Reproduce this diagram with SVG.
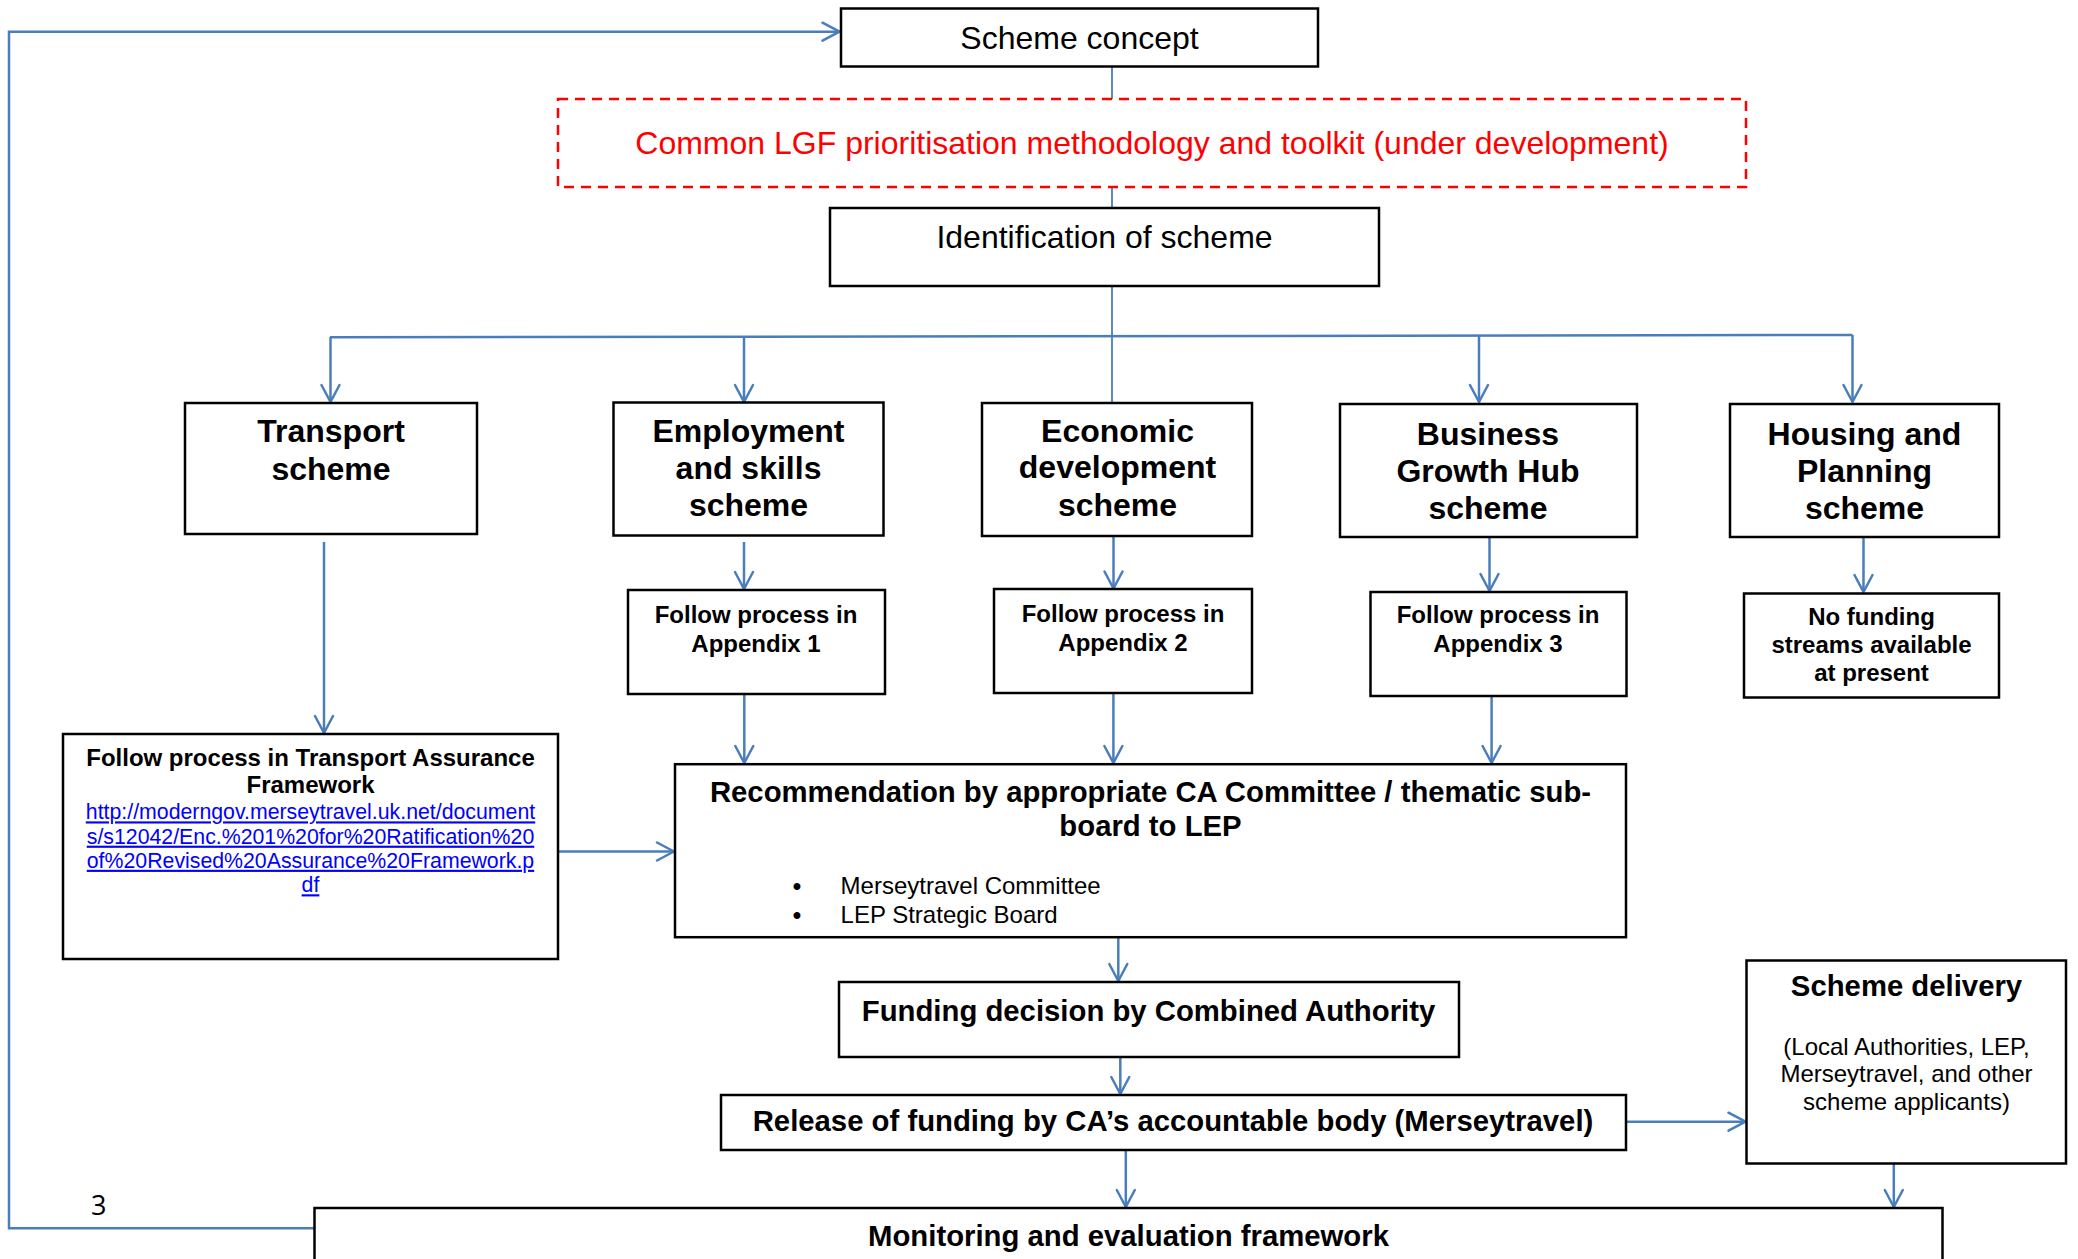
<svg xmlns="http://www.w3.org/2000/svg" width="2078" height="1259" viewBox="0 0 2078 1259">
<style>
  .box { fill: #ffffff; stroke: #000000; stroke-width: 2.5; }
  .dash { fill: none; stroke: #ff0000; stroke-width: 2.5; stroke-dasharray: 10 7; }
  .con { fill: none; stroke: #4a7ebb; stroke-width: 2.5; }
  .thin { fill: none; stroke: #4a7ebb; stroke-width: 1.8; }
  text { font-family: "Liberation Sans", Arial, sans-serif; fill: #000000; }
  .t32 { font-size: 32px; text-anchor: middle; }
  .b32 { font-size: 32px; font-weight: bold; text-anchor: middle; }
  .b24 { font-size: 24px; font-weight: bold; text-anchor: middle; }
  .b29 { font-size: 29.3px; font-weight: bold; text-anchor: middle; }
  .r24 { font-size: 24px; }
  .link { font-size: 21.3px; fill: #0000ff; text-decoration: underline; text-anchor: middle; }
</style>
<defs>
  <marker id="arr" markerUnits="userSpaceOnUse" markerWidth="22" markerHeight="22" viewBox="0 0 22 22" refX="19" refY="11" orient="auto">
    <path d="M2,2 L19,11 L2,20" fill="none" stroke="#4a7ebb" stroke-width="2.5" stroke-linejoin="round" stroke-linecap="round"/>
  </marker>
</defs>

<g id="connectors">
  <line class="thin" x1="1112" y1="67" x2="1112" y2="99"/>
  <line class="thin" x1="1112" y1="187" x2="1112" y2="208"/>
  <line class="thin" x1="1112" y1="286" x2="1112" y2="403"/>
  <line class="con" x1="330" y1="337.3" x2="1852.5" y2="335"/>
  <line class="con" x1="330.5" y1="337" x2="330.5" y2="402" marker-end="url(#arr)"/>
  <line class="con" x1="744" y1="337" x2="744" y2="402" marker-end="url(#arr)"/>
  <line class="con" x1="1479" y1="335.5" x2="1479" y2="402" marker-end="url(#arr)"/>
  <line class="con" x1="1852.5" y1="335" x2="1852.5" y2="402" marker-end="url(#arr)"/>
  <line class="con" x1="324" y1="542" x2="324" y2="733" marker-end="url(#arr)"/>
  <line class="con" x1="744" y1="542" x2="744" y2="589" marker-end="url(#arr)"/>
  <line class="con" x1="1113.5" y1="536" x2="1113.5" y2="588.5" marker-end="url(#arr)"/>
  <line class="con" x1="1489.5" y1="537" x2="1489.5" y2="591" marker-end="url(#arr)"/>
  <line class="con" x1="1863.5" y1="537" x2="1863.5" y2="592" marker-end="url(#arr)"/>
  <line class="con" x1="744.3" y1="694" x2="744.3" y2="763" marker-end="url(#arr)"/>
  <line class="con" x1="1113.4" y1="693" x2="1113.4" y2="763" marker-end="url(#arr)"/>
  <line class="con" x1="1491.6" y1="696" x2="1491.6" y2="763" marker-end="url(#arr)"/>
  <line class="con" x1="558" y1="851.5" x2="674" y2="851.5" marker-end="url(#arr)"/>
  <line class="con" x1="1118.3" y1="937" x2="1118.3" y2="981" marker-end="url(#arr)"/>
  <line class="con" x1="1120.3" y1="1057" x2="1120.3" y2="1094" marker-end="url(#arr)"/>
  <line class="con" x1="1626" y1="1121.7" x2="1745.5" y2="1121.7" marker-end="url(#arr)"/>
  <line class="con" x1="1125.8" y1="1150" x2="1125.8" y2="1207" marker-end="url(#arr)"/>
  <line class="con" x1="1893.8" y1="1163.5" x2="1893.8" y2="1207" marker-end="url(#arr)"/>
  <polyline class="con" points="314,1228.3 9,1228.3 9,31.7 839.5,31.7" marker-end="url(#arr)"/>
</g>

<g id="scheme-concept">
  <rect class="box" x="841" y="8.5" width="477" height="58"/>
  <text class="t32" x="1079.5" y="49">Scheme concept</text>
</g>

<g id="lgf-methodology">
  <rect class="dash" x="558" y="99" width="1188" height="88"/>
  <text class="t32" x="1152" y="154" style="fill:#ff0000">Common LGF prioritisation methodology and toolkit (under development)</text>
</g>

<g id="identification">
  <rect class="box" x="830" y="208" width="549" height="78"/>
  <text class="t32" x="1104.5" y="248">Identification of scheme</text>
</g>

<g id="transport-scheme">
  <rect class="box" x="185" y="403" width="292" height="131"/>
  <text class="b32" x="331" y="442">Transport</text>
  <text class="b32" x="331" y="480">scheme</text>
</g>

<g id="employment-scheme">
  <rect class="box" x="613.5" y="402.5" width="270" height="133"/>
  <text class="b32" x="748.5" y="441.7">Employment</text>
  <text class="b32" x="748.5" y="478.7">and skills</text>
  <text class="b32" x="748.5" y="515.7">scheme</text>
</g>

<g id="economic-scheme">
  <rect class="box" x="982" y="403" width="270" height="133"/>
  <text class="b32" x="1117.5" y="441.7">Economic</text>
  <text class="b32" x="1117.5" y="478.3">development</text>
  <text class="b32" x="1117.5" y="515.7">scheme</text>
</g>

<g id="business-scheme">
  <rect class="box" x="1340" y="404" width="297" height="133"/>
  <text class="b32" x="1488" y="445">Business</text>
  <text class="b32" x="1488" y="481.7">Growth Hub</text>
  <text class="b32" x="1488" y="519">scheme</text>
</g>

<g id="housing-scheme">
  <rect class="box" x="1730" y="404" width="269" height="133"/>
  <text class="b32" x="1864.5" y="445">Housing and</text>
  <text class="b32" x="1864.5" y="481.7">Planning</text>
  <text class="b32" x="1864.5" y="518.5">scheme</text>
</g>

<g id="appendix-1">
  <rect class="box" x="628" y="590" width="257" height="104"/>
  <text class="b24" x="756" y="623.3">Follow process in</text>
  <text class="b24" x="756" y="651.7">Appendix 1</text>
</g>

<g id="appendix-2">
  <rect class="box" x="994" y="589" width="258" height="104"/>
  <text class="b24" x="1123" y="621.7">Follow process in</text>
  <text class="b24" x="1123" y="650.7">Appendix 2</text>
</g>

<g id="appendix-3">
  <rect class="box" x="1370.5" y="592" width="256" height="104"/>
  <text class="b24" x="1498" y="623.3">Follow process in</text>
  <text class="b24" x="1498" y="652.3">Appendix 3</text>
</g>

<g id="no-funding">
  <rect class="box" x="1744" y="593.5" width="255" height="104"/>
  <text class="b24" x="1871.5" y="625">No funding</text>
  <text class="b24" x="1871.5" y="653.3">streams available</text>
  <text class="b24" x="1871.5" y="680.5">at present</text>
</g>

<g id="transport-assurance">
  <rect class="box" x="63" y="734" width="495" height="225"/>
  <text class="b24" x="310.5" y="766">Follow process in Transport Assurance</text>
  <text class="b24" x="310.5" y="793.4">Framework</text>
  <text class="link" x="310.5" y="819.4">http://moderngov.merseytravel.uk.net/document</text>
  <text class="link" x="310.5" y="843.7">s/s12042/Enc.%201%20for%20Ratification%20</text>
  <text class="link" x="310.5" y="867.8">of%20Revised%20Assurance%20Framework.p</text>
  <text class="link" x="310.5" y="892.3">df</text>
</g>

<g id="recommendation">
  <rect class="box" x="675" y="764.2" width="951" height="173"/>
  <text class="b29" x="1150.5" y="801.6">Recommendation by appropriate CA Committee / thematic sub-</text>
  <text class="b29" x="1150.5" y="835.5">board to LEP</text>
  <text class="r24" x="797" y="894.3" style="text-anchor:middle;font-weight:bold">•</text>
  <text class="r24" x="840.6" y="894.3">Merseytravel Committee</text>
  <text class="r24" x="797" y="922.8" style="text-anchor:middle;font-weight:bold">•</text>
  <text class="r24" x="840.6" y="922.8">LEP Strategic Board</text>
</g>

<g id="funding-decision">
  <rect class="box" x="839" y="982" width="620" height="75"/>
  <text class="b29" x="1148.5" y="1020.9">Funding decision by Combined Authority</text>
</g>

<g id="release-funding">
  <rect class="box" x="721" y="1095" width="905" height="55"/>
  <text class="b29" x="1173" y="1131.4">Release of funding by CA’s accountable body (Merseytravel)</text>
</g>

<g id="scheme-delivery">
  <rect class="box" x="1746.5" y="960.5" width="319.5" height="203"/>
  <text class="b29" x="1906.5" y="995.9">Scheme delivery</text>
  <text class="r24" x="1906.5" y="1054.7" style="text-anchor:middle">(Local Authorities, LEP,</text>
  <text class="r24" x="1906.5" y="1082.2" style="text-anchor:middle">Merseytravel, and other</text>
  <text class="r24" x="1906.5" y="1110" style="text-anchor:middle">scheme applicants)</text>
</g>

<g id="monitoring">
  <rect class="box" x="314.5" y="1208" width="1628" height="90"/>
  <text class="b29" x="1128.5" y="1245.5">Monitoring and evaluation framework</text>
</g>

<text x="91" y="1215" style="font-family:'Open Sans','Liberation Sans',sans-serif;font-size:27px">3</text>
</svg>
